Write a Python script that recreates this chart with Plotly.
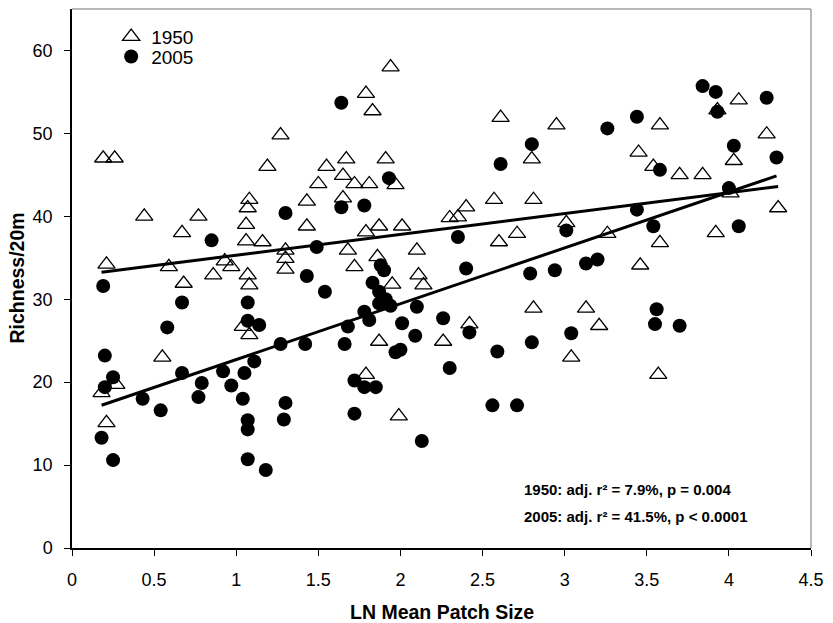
import plotly.graph_objects as go

# ---- Data ----
x_1950 = [0.19, 0.26, 0.44, 0.77, 0.67, 1.08, 1.07, 1.06, 1.06, 0.21, 0.59, 0.93, 0.97,
          1.94, 1.79, 1.83, 1.27, 1.19, 1.55, 1.67, 1.91, 1.65, 1.50, 1.72, 1.81, 1.97,
          1.43, 1.65, 1.43, 1.87, 2.01, 1.79, 1.16, 1.30, 1.30, 1.30, 1.68, 2.10, 2.30,
          1.86, 1.72, 2.61, 2.95, 2.80, 3.45, 2.57, 2.81, 2.40, 2.35, 3.01, 2.71, 2.60,
          3.26, 3.93, 4.06, 3.58, 4.23, 4.03, 3.54, 3.70, 3.84, 4.01, 4.30, 3.92, 3.58,
          3.46, 0.86, 0.68, 1.07, 1.08, 1.04, 1.08, 0.55, 0.27, 0.18, 0.21, 1.95, 2.11,
          2.14, 1.87, 2.26, 1.79, 1.99, 2.42, 2.81, 3.13, 3.21, 3.04, 3.57]
y_1950 = [47.0, 47.0, 40.0, 40.0, 38.0, 42.0, 41.0, 39.0, 37.0, 34.2, 33.9, 34.6, 33.9,
          58.0, 54.8, 52.7, 49.8, 46.0, 46.0, 46.9, 46.9, 44.9, 43.9, 43.9, 43.9, 43.8,
          41.8, 42.2, 38.8, 38.8, 38.8, 38.1, 36.9, 35.9, 34.9, 33.6, 35.9, 35.9, 39.8,
          35.1, 33.9, 51.9, 51.0, 46.9, 47.7, 42.0, 42.0, 41.1, 39.9, 39.2, 37.9, 36.9,
          37.9, 52.8, 54.0, 51.0, 49.9, 46.7, 46.0, 45.0, 45.0, 42.8, 41.0, 38.0, 36.8,
          34.1, 32.9, 31.9, 32.9, 31.7, 26.7, 25.7, 23.0, 19.7, 18.7, 15.1, 31.8, 32.9,
          31.7, 24.9, 24.9, 20.9, 15.9, 27.0, 28.9, 28.9, 26.8, 23.0, 20.9]

x_2005 = [0.85, 1.64, 1.93, 1.64, 1.78, 1.30, 1.49, 1.88, 1.90, 3.26, 3.44, 2.80, 2.61,
          3.44, 2.35, 3.01, 2.40, 2.79, 2.94, 3.13, 3.20, 3.84, 3.92, 3.93, 4.23, 4.03,
          4.29, 3.58, 4.00, 4.06, 3.54, 0.19, 0.67, 1.07, 0.58, 1.07, 1.14, 0.20, 0.67,
          0.25, 0.20, 0.92, 0.79, 0.77, 0.97, 1.05, 1.04, 0.43, 0.54, 0.18, 1.07, 1.07,
          0.25, 1.07, 1.43, 1.54, 1.83, 1.87, 1.91, 1.94, 1.87, 2.10, 1.78, 1.81, 2.26,
          2.01, 1.68, 2.09, 1.27, 1.42, 1.66, 1.97, 2.00, 1.11, 1.72, 1.78, 1.85, 1.30,
          1.29, 1.72, 2.13, 1.18, 2.42, 3.04, 2.80, 2.59, 2.30, 2.56, 2.71, 3.56, 3.55,
          3.70]
y_2005 = [37.1, 53.7, 44.6, 41.1, 41.3, 40.4, 36.3, 34.1, 33.5, 50.6, 52.0, 48.7, 46.3,
          40.8, 37.5, 38.3, 33.7, 33.1, 33.5, 34.3, 34.8, 55.7, 55.0, 52.6, 54.3, 48.5,
          47.1, 45.6, 43.4, 38.8, 38.8, 31.6, 29.6, 29.6, 26.6, 27.4, 26.9, 23.2, 21.1,
          20.6, 19.4, 21.3, 19.9, 18.2, 19.6, 21.1, 18.0, 18.0, 16.6, 13.3, 15.4, 14.3,
          10.6, 10.7, 32.8, 30.9, 32.0, 30.9, 30.0, 29.2, 29.5, 29.1, 28.5, 27.5, 27.7,
          27.1, 26.7, 25.6, 24.6, 24.6, 24.6, 23.6, 23.9, 22.5, 20.2, 19.4, 19.4, 17.5,
          15.5, 16.2, 12.9, 9.4, 26.0, 25.9, 24.8, 23.7, 21.7, 17.2, 17.2, 28.8, 27.0,
          26.8]

# linear trend lines (intercept, slope)
trend_1950 = (32.8, 2.51)
trend_2005 = (16.0, 6.73)

series_names = ["1950", "2005"]
stats_text = ["1950: adj. r² = 7.9%, p = 0.004",
              "2005: adj. r² = 41.5%, p < 0.0001"]
x_title = "LN Mean Patch Size"
y_title = "Richness/20m"

FONT = "Liberation Sans, Arial, sans-serif"

fig = go.Figure()

fig.add_trace(go.Scatter(
    x=x_1950, y=y_1950, mode="markers", name=series_names[0], legend="legend",
    marker=dict(symbol="triangle-up-open", size=15, color="black",
                line=dict(color="black", width=1.3)),
))
fig.add_trace(go.Scatter(
    x=x_2005, y=y_2005, mode="markers", name=series_names[1], legend="legend2",
    marker=dict(symbol="circle", size=14, color="black"),
))

for (b0, b1), xs in ((trend_1950, x_1950), (trend_2005, x_2005)):
    xl = [min(xs), max(xs)]
    fig.add_trace(go.Scatter(
        x=xl, y=[b0 + b1 * v for v in xl], mode="lines",
        line=dict(color="black", width=3), showlegend=False, hoverinfo="skip",
    ))

fig.add_annotation(x=2.74, y=7.0, xref="x", yref="y", text=stats_text[0],
                   showarrow=False, xanchor="left", yanchor="middle",
                   font=dict(family=FONT, size=15, color="black", weight="bold"))
fig.add_annotation(x=2.74, y=3.8, xref="x", yref="y", text=stats_text[1],
                   showarrow=False, xanchor="left", yanchor="middle",
                   font=dict(family=FONT, size=15, color="black", weight="bold"))

# axis titles
fig.add_annotation(x=0.5, y=0, xref="paper", yref="paper", yshift=-64,
                   text="<b>" + x_title + "</b>", showarrow=False,
                   xanchor="center", yanchor="middle",
                   font=dict(family=FONT, size=19.5, color="black"))
fig.add_annotation(x=0, y=0.5, xref="paper", yref="paper", xshift=-56,
                   text="<b>" + y_title + "</b>", showarrow=False, textangle=-90,
                   xanchor="center", yanchor="middle",
                   font=dict(family=FONT, size=19.5, color="black"))

# top and right border of plot area (grey)
fig.add_shape(type="line", xref="paper", yref="paper", x0=0, x1=1, y0=1, y1=1,
              line=dict(color="#a0a0a0", width=1.5))
fig.add_shape(type="line", xref="paper", yref="paper", x0=1, x1=1, y0=0, y1=1,
              line=dict(color="#a0a0a0", width=1.5))

legend_common = dict(x=0.053, xanchor="left", yanchor="middle",
                     bgcolor="rgba(0,0,0,0)", font=dict(size=19, family=FONT, color="black"),
                     itemsizing="trace")

fig.update_layout(
    width=833, height=623,
    margin=dict(l=72, r=15, t=9, b=75),
    paper_bgcolor="white", plot_bgcolor="white",
    font=dict(family=FONT, size=18, color="black"),
    showlegend=True,
    legend=dict(y=0.9486, **legend_common),
    legend2=dict(y=0.9115, **legend_common),
    xaxis=dict(range=[0, 4.5], dtick=0.5, tick0=0, showgrid=False, zeroline=False,
               showline=True, linecolor="black", linewidth=1.5,
               ticks="outside", ticklen=6, tickcolor="black",
               tickfont=dict(size=18), ticklabelstandoff=9),
    yaxis=dict(range=[0, 65], tickvals=[0, 10, 20, 30, 40, 50, 60], showgrid=False,
               zeroline=False, showline=True, linecolor="black", linewidth=1.5,
               ticks="outside", ticklen=6, tickcolor="black",
               tickfont=dict(size=18), ticklabelstandoff=8),
)

fig.write_html("out.html",
               config={"displayModeBar": False},
               post_script="document.body.style.margin='0';document.body.style.overflow='hidden';")
